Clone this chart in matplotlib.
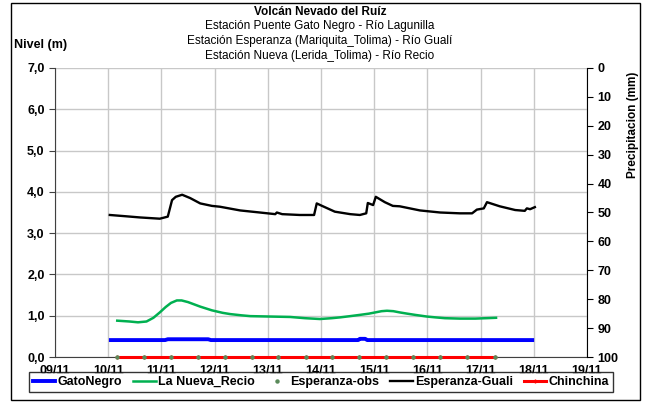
import matplotlib
matplotlib.use("Agg")
import matplotlib.pyplot as plt
from matplotlib.patches import Rectangle

plt.rcParams['font.family'] = ['Liberation Sans', 'DejaVu Sans']

# days of November (decimal), levels in m
guali_x = [10.03, 10.32, 10.6, 10.97, 11.12, 11.2, 11.27, 11.39, 11.54, 11.73, 11.95, 12.1,
           12.48, 12.85, 13.14, 13.17, 13.27, 13.6, 13.87, 13.92, 14.02, 14.26, 14.55, 14.73,
           14.85, 14.88, 14.98, 15.03, 15.2, 15.35, 15.48, 15.86, 16.24, 16.61, 16.84, 16.93,
           17.06, 17.12, 17.36, 17.65, 17.83, 17.87, 17.93, 18.02]
guali_y = [3.44, 3.41, 3.38, 3.35, 3.40, 3.80, 3.88, 3.93, 3.85, 3.72, 3.66, 3.64,
           3.55, 3.50, 3.46, 3.50, 3.46, 3.44, 3.44, 3.72, 3.66, 3.52, 3.46, 3.44,
           3.48, 3.73, 3.68, 3.88, 3.75, 3.66, 3.65, 3.55, 3.50, 3.48, 3.48, 3.57,
           3.60, 3.75, 3.65, 3.56, 3.54, 3.60, 3.58, 3.63]

recio_x = [10.17, 10.4, 10.56, 10.72, 10.85, 10.97, 11.08, 11.18, 11.29, 11.38, 11.5, 11.73,
           11.95, 12.15, 12.29, 12.5, 12.67, 13.04, 13.42, 13.7, 13.98, 14.2, 14.36, 14.55,
           14.73, 14.9, 15.02, 15.14, 15.24, 15.36, 15.48, 15.62, 15.77, 15.99, 16.15, 16.33,
           16.61, 16.9, 17.1, 17.29]
recio_y = [0.88, 0.86, 0.84, 0.86, 0.95, 1.08, 1.21, 1.31, 1.37, 1.37, 1.33, 1.22,
           1.13, 1.07, 1.04, 1.01, 0.99, 0.98, 0.97, 0.94, 0.92, 0.94, 0.96, 0.99,
           1.02, 1.05, 1.08, 1.11, 1.12, 1.11, 1.08, 1.05, 1.02, 0.98, 0.96, 0.94,
           0.93, 0.93, 0.94, 0.95]

gato_x = [10.05, 11.07, 11.12, 11.88, 11.93, 14.7, 14.73, 14.83, 14.87, 17.97]
gato_y = [0.41, 0.41, 0.43, 0.43, 0.41, 0.41, 0.44, 0.44, 0.41, 0.41]

obs_x = [10.17, 10.68, 11.18, 11.69, 12.19, 12.7, 13.2, 13.71, 14.21, 14.72, 15.22,
         15.73, 16.23, 16.74, 17.27]
obs_y = [0.0] * len(obs_x)
chin_y = [0.0] * len(obs_x)

day_ticks = list(range(9, 20))
day_labels = ["%02d/11" % d for d in day_ticks]
nivel_ticks = [0, 1, 2, 3, 4, 5, 6, 7]
precip_ticks = list(range(0, 101, 10))

fig = plt.figure(figsize=(6.52, 4.11), dpi=100)
ax = fig.add_axes([55 / 652, 1 - 357 / 411, (587 - 55) / 652, (357 - 68) / 411])

ax.grid(True, color='#c8c8c8', linewidth=1)
ax.set_axisbelow(True)
l1, = ax.plot(gato_x, gato_y, color='#0000ff', lw=2.8, label='GatoNegro', zorder=3)
l2, = ax.plot(recio_x, recio_y, color='#00b050', lw=1.8, label='La Nueva_Recio', zorder=3)
l5, = ax.plot(obs_x, chin_y, color='#ff0000', lw=2.2, marker='+', ms=3, mew=1,
              label='Chinchina', zorder=3, clip_on=False)
l3, = ax.plot(obs_x, obs_y, ls='none', marker='o', ms=2.2, color='#5a8a5a',
              label='Esperanza-obs', zorder=4, clip_on=False)
l4, = ax.plot(guali_x, guali_y, color='black', lw=1.7, label='Esperanza-Guali', zorder=3)

ax.set_xlim(9, 19)
ax.set_ylim(0, 7)
ax.set_xticks(day_ticks)
ax.set_xticklabels(day_labels)
ax.set_yticks(nivel_ticks)
ax.set_yticklabels(["%d,0" % v for v in nivel_ticks])
ax.tick_params(axis='both', labelsize=9, length=4, color='#404040')
ax.tick_params(axis='x', length=0, pad=6)
for lab in ax.get_xticklabels() + ax.get_yticklabels():
    lab.set_fontweight('bold')
ax.spines['top'].set_visible(False)
ax.spines['right'].set_visible(False)
ax.spines['left'].set_color('#404040')
ax.spines['bottom'].set_color('#404040')

ax2 = ax.twinx()
ax2.set_ylim(100, 0)
ax2.set_yticks(precip_ticks)
ax2.tick_params(axis='y', labelsize=9, length=4, color='black')
for lab in ax2.get_yticklabels():
    lab.set_fontweight('bold')
for s in ['top', 'left', 'bottom']:
    ax2.spines[s].set_visible(False)
ax2.spines['right'].set_color('black')

fig.text(320 / 652, 1 - 12 / 411, 'Volcán Nevado del Ruíz', ha='center', va='center',
         fontsize=8.5, fontweight='bold')
fig.text(320 / 652, 1 - 26 / 411, 'Estación Puente Gato Negro - Río Lagunilla',
         ha='center', va='center', fontsize=8.5)
fig.text(320 / 652, 1 - 41 / 411, 'Estación Esperanza (Mariquita_Tolima) - Río Gualí',
         ha='center', va='center', fontsize=8.5)
fig.text(320 / 652, 1 - 56 / 411, 'Estación Nueva (Lerida_Tolima) - Río Recio',
         ha='center', va='center', fontsize=8.5)
fig.text(14 / 652, 1 - 45 / 411, 'Nivel (m)', ha='left', va='center',
         fontsize=9, fontweight='bold')
fig.text(633 / 652, 1 - 125 / 411, 'Precipitacion (mm)', ha='center', va='center',
         rotation=90, fontsize=8.5, fontweight='bold')

leg = fig.legend(handles=[l1, l2, l3, l4, l5], loc='center', ncol=5,
                 bbox_to_anchor=(321 / 652, 1 - 382 / 411),
                 frameon=True, fancybox=False, handlelength=1.8, handletextpad=0.2,
                 columnspacing=0.85, borderpad=0.3, prop={'weight': 'bold', 'size': 9})
leg.get_frame().set_edgecolor('black')
leg.get_frame().set_linewidth(1)

fig.patches.append(Rectangle((11 / 652, 1 - 400 / 411), 629 / 652, 397 / 411,
                             transform=fig.transFigure, fill=False, edgecolor='black',
                             linewidth=1))

fig.savefig('out.png', dpi=100)
